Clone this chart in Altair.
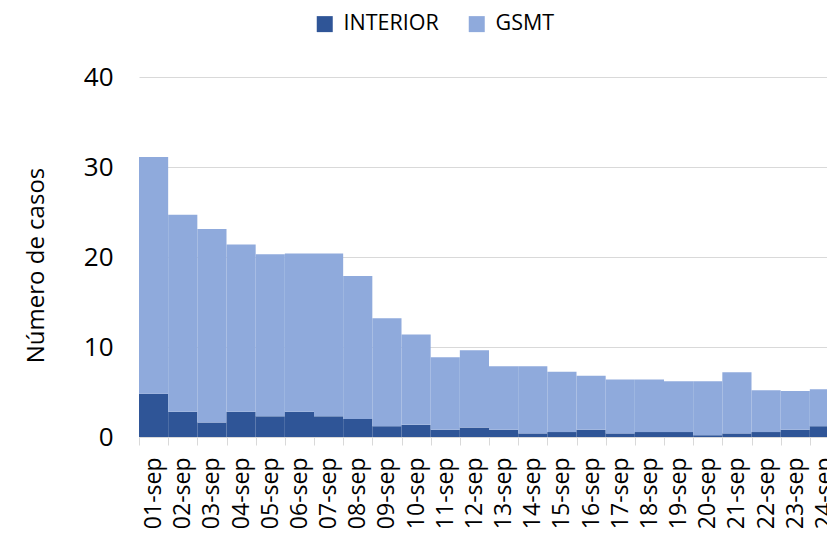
import altair as alt
import pandas as pd

days = ["01-sep", "02-sep", "03-sep", "04-sep", "05-sep", "06-sep", "07-sep", "08-sep",
        "09-sep", "10-sep", "11-sep", "12-sep", "13-sep", "14-sep", "15-sep", "16-sep",
        "17-sep", "18-sep", "19-sep", "20-sep", "21-sep", "22-sep", "23-sep", "24-sep"]
interior = [4.8, 2.8, 1.6, 2.8, 2.3, 2.8, 2.3, 2.0, 1.2, 1.35, 0.8, 1.05,
            0.8, 0.4, 0.55, 0.8, 0.4, 0.55, 0.55, 0.2, 0.4, 0.55, 0.8, 1.2]
gsmt = [26.3, 21.9, 21.5, 18.6, 18.0, 17.6, 18.1, 15.9, 12.0, 10.05, 8.05, 8.6,
        7.05, 7.45, 6.7, 6.0, 6.0, 5.85, 5.65, 6.0, 6.8, 4.65, 4.3, 4.1]
series = ["INTERIOR", "GSMT"]
colors = ["#2F5597", "#8FAADC"]

rows = []
for d, a, b in zip(days, interior, gsmt):
    rows.append({"dia": d, "serie": "INTERIOR", "casos": a, "orden": 0})
    rows.append({"dia": d, "serie": "GSMT", "casos": b, "orden": 1})
df = pd.DataFrame(rows)

FONT = "Open Sans"

chart = alt.Chart(df).mark_bar(stroke=None).encode(
    x=alt.X("dia:N", sort=days,
            scale=alt.Scale(paddingInner=0, paddingOuter=0, range=[0, 700]),
            axis=alt.Axis(title=None, labelAngle=-90, labelFontSize=23, labelFont=FONT,
                          labelColor="#000000", domainColor="#D9D9D9", tickColor="#D9D9D9",
                          tickSize=8, tickBand="extent", labelPadding=12, grid=False)),
    y=alt.Y("casos:Q", stack="zero",
            scale=alt.Scale(domain=[0, 40]),
            axis=alt.Axis(title="Número de casos", values=[0, 10, 20, 30, 40],
                          labelFontSize=26, labelFont=FONT, labelColor="#000000",
                          labelPadding=26, ticks=False, domain=False,
                          gridColor="#D9D9D9", gridWidth=1,
                          titleFont=FONT, titleFontSize=24, titleFontWeight="normal",
                          titleColor="#000000", titleX=-103, titleY=188,
                          titleBaseline="middle")),
    color=alt.Color("serie:N", scale=alt.Scale(domain=series, range=colors),
                    legend=alt.Legend(title=None, orient="none", direction="horizontal",
                                      legendX=175, legendY=-64,
                                      symbolType="square", symbolSize=256,
                                      symbolStrokeWidth=0, labelFont=FONT,
                                      labelFontSize=21.5, labelColor="#000000",
                                      labelOffset=8, columnPadding=27)),
    order=alt.Order("orden:Q", sort="ascending"),
).properties(
    width=688, height=360,
    autosize=alt.AutoSizeParams(type="none"),
    padding={"left": 131, "top": 69, "right": 0, "bottom": 94},
).configure_view(stroke=None)

chart.save("out.html", embed_options={"renderer": "svg", "actions": False})
